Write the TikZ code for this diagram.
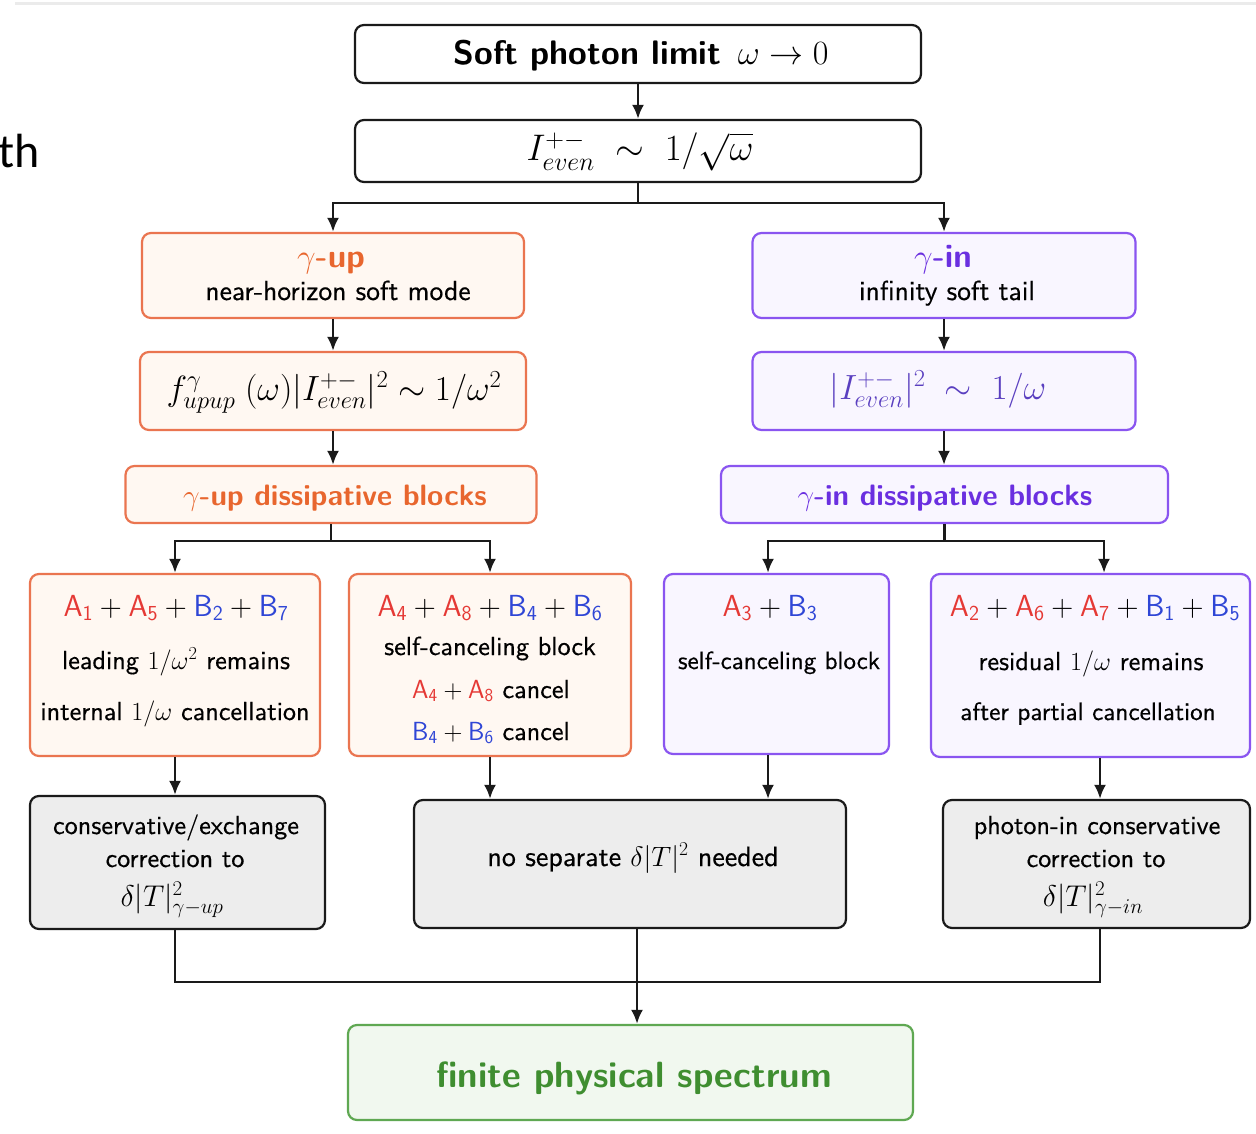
\RequirePackage{fix-cm}
\documentclass[tikz,border=0pt]{standalone}
\usepackage{fontspec}
\newfontfamily\carlito{Carlito}
\newfontfamily\medsf{lmsans10-regular.otf}[FakeBold=0.4]
\usetikzlibrary{arrows.meta}
\definecolor{obord}{HTML}{EA7550}
\definecolor{otext}{HTML}{E8662E}
\definecolor{ofill}{HTML}{FFF8F2}
\definecolor{pbord}{HTML}{8A55F0}
\definecolor{ptext}{HTML}{6A2FE0}
\definecolor{pmath}{HTML}{5A3FC0}
\definecolor{pfill}{HTML}{F9F6FF}
\definecolor{gbord}{HTML}{5FA852}
\definecolor{gtext}{HTML}{3F8E30}
\definecolor{gfill}{HTML}{F1F8EF}
\definecolor{grayfill}{HTML}{EDEDED}
\definecolor{lineblk}{HTML}{1A1A1A}
\definecolor{cred}{HTML}{E53935}
\definecolor{cblue}{HTML}{2F46D6}
\newcommand\mA[1]{\textcolor{cred}{\mathsf{A}_{\mathsf{#1}}}}
\newcommand\mB[1]{\textcolor{cblue}{\mathsf{B}_{\mathsf{#1}}}}
\newcommand\fsN{\fontsize{26.2}{31}\selectfont}
\newcommand\fsS{\fontsize{27.6}{32}\selectfont}
\newcommand\fsA{\fontsize{30.5}{35}\selectfont}
\newcommand\fsM{\fontsize{35}{40}\selectfont}
\newcommand\fsD{\fontsize{30}{34}\selectfont}
\tikzset{
  x=1pt, y=-1pt,
  basebox/.style={rounded corners=9pt, line width=2.2pt, inner sep=0pt},
  kbox/.style={basebox, draw=lineblk, fill=white},
  obox/.style={basebox, draw=obord, fill=ofill},
  pbox/.style={basebox, draw=pbord, fill=pfill},
  gybox/.style={basebox, draw=lineblk, fill=grayfill},
  gnbox/.style={basebox, draw=gbord, fill=gfill},
  lbl/.style={anchor=base, inner sep=0pt, font=\medsf\fsN, text=black},
  alb/.style={lbl, font=\medsf\fsA},
  mlb/.style={lbl, font=\medsf\fsM},
  slb/.style={lbl, font=\medsf\fsS},
  dlb/.style={lbl, font=\medsf\fsD},
  hlb/.style={lbl, font=\sffamily\bfseries\fontsize{33}{36}\selectfont},
  arr/.style={draw=lineblk, line width=2.6pt, -{Latex[length=14pt,width=12pt]}},
  ln/.style={draw=lineblk, line width=2.6pt},
}
\begin{document}
\begin{tikzpicture}
\useasboundingbox (0,0) rectangle (1256,1134);
\fill[white] (0,0) rectangle (1256,1134);
\draw[black!8, line width=3pt] (15,4) -- (1256,4);
\node[anchor=base west, inner sep=0pt, font=\carlito\fontsize{48}{52}\selectfont] (th) at (-2,168) {th};

% boxes
\node[kbox, minimum width=566pt, minimum height=58pt] (b1) at (638,54) {};
\node[kbox, minimum width=566pt, minimum height=62pt] (b2) at (638,151) {};
\node[obox, minimum width=382pt, minimum height=85pt] (b3) at (333,275.5) {};
\node[pbox, minimum width=383pt, minimum height=85pt] (b4) at (944,275.5) {};
\node[obox, minimum width=386pt, minimum height=78pt] (b5) at (333,391) {};
\node[pbox, minimum width=383pt, minimum height=78pt] (b6) at (944,391) {};
\node[obox, minimum width=411pt, minimum height=57pt] (b7) at (331,494.5) {};
\node[pbox, minimum width=447pt, minimum height=57pt] (b8) at (944.5,494.5) {};
\node[obox, minimum width=290pt, minimum height=182pt] (b9) at (175,665) {};
\node[obox, minimum width=282pt, minimum height=182pt] (b10) at (490,665) {};
\node[pbox, minimum width=225pt, minimum height=180pt] (b11) at (776.5,664) {};
\node[pbox, minimum width=319pt, minimum height=183pt] (b12) at (1090.5,665.5) {};
\node[gybox, minimum width=295pt, minimum height=133pt] (b13) at (177.5,862.5) {};
\node[gybox, minimum width=432pt, minimum height=128pt] (b14) at (630,864) {};
\node[gybox, minimum width=307pt, minimum height=128pt] (b15) at (1096.5,864) {};
\node[gnbox, minimum width=565pt, minimum height=95pt] (b16) at (630.5,1072.5) {};

% labels
\node[lbl, font=\sffamily\fontsize{34}{38}\selectfont] (t1) at (641,65) {\textbf{Soft photon limit}\enspace$\omega\to 0$};
\node[lbl, font=\sffamily\fontsize{37}{40}\selectfont] (t2) at (640,161) {$I^{+-}_{even}\;\sim\;1/\sqrt{\omega}$};
\node[hlb, text=otext] (t3a) at (331,268) {$\gamma$-up};
\node[slb] (t3b) at (338,300) {near-horizon soft mode};
\node[hlb, text=ptext] (t4a) at (943,268) {$\gamma$-in};
\node[slb] (t4b) at (947,300) {infinity soft tail};
\node[mlb] (t5) at (334,400) {$f^{\gamma}_{upup}\;(\omega)|I^{+-}_{even}|^2\sim 1/\omega^2$};
\node[mlb, text=pmath] (t6) at (938,399) {$|I^{+-}_{even}|^2\;\sim\;1/\omega$};
\node[lbl, font=\sffamily\bfseries\fontsize{29.5}{34}\selectfont, text=otext] (t7) at (335,505) {$\gamma$-up dissipative blocks};
\node[lbl, font=\sffamily\bfseries\fontsize{29.5}{34}\selectfont, text=ptext] (t8) at (945,505) {$\gamma$-in dissipative blocks};

\node[alb] (t9a) at (176,616) {$\mA{1}+\mA{5}+\mB{2}+\mB{7}$};
\node[lbl] (t9b) at (176,669) {leading $1/\omega^2$ remains};
\node[lbl] (t9c) at (175,720) {internal $1/\omega$ cancellation};

\node[alb] (t10a) at (490,616) {$\mA{4}+\mA{8}+\mB{4}+\mB{6}$};
\node[lbl] (t10b) at (490,655) {self-canceling block};
\node[lbl] (t10c) at (491,698) {$\mA{4}+\mA{8}$ cancel};
\node[lbl] (t10d) at (491,740) {$\mB{4}+\mB{6}$ cancel};

\node[alb] (t11a) at (770,616) {$\mA{3}+\mB{3}$};
\node[lbl, font=\medsf\fontsize{25}{30}\selectfont] (t11b) at (779,669) {self-canceling block};

\node[alb] (t12a) at (1095,616) {$\mA{2}+\mA{6}+\mA{7}+\mB{1}+\mB{5}$};
\node[lbl] (t12b) at (1091,670) {residual $1/\omega$ remains};
\node[lbl, font=\medsf\fontsize{25.2}{30}\selectfont] (t12c) at (1088,720) {after partial cancellation};

\node[lbl] (t13a) at (176,834) {conservative/exchange};
\node[lbl] (t13b) at (175,867) {correction to};
\node[dlb] (t13c) at (172,906) {$\delta|T|^2_{\gamma-up}$};

\node[lbl, font=\medsf\fontsize{28}{32}\selectfont] (t14) at (633,866) {no separate $\delta|T|^2$ needed};

\node[lbl] (t15a) at (1097,834) {photon-in conservative};
\node[lbl] (t15b) at (1096,867) {correction to};
\node[dlb] (t15c) at (1093,906) {$\delta|T|^2_{\gamma-in}$};

\node[lbl, font=\sffamily\bfseries\fontsize{36.5}{40}\selectfont, text=gtext] (t16) at (634,1087) {finite physical spectrum};

% connectors
\coordinate (j1) at (638,203);
\coordinate (j2) at (331,541);
\coordinate (j3) at (944.5,541);
\coordinate (j4) at (175,982);
\coordinate (j5) at (1100,982);
\coordinate (j6) at (637,982);
\draw[arr] (b1) -- (b2);
\draw[ln] (b2.south) -- (j1);
\draw[arr] (j1) -| (b3.north);
\draw[arr] (j1) -| (b4.north);
\draw[arr] (b3) -- (b5);
\draw[arr] (b5.south) -- (b5.south |- b7.north);
\draw[arr] (b4) -- (b6);
\draw[arr] (b6) -- (b6.south |- b8.north);
\draw[ln] (b7.south) -- (j2);
\draw[arr] (j2) -| (b9.north);
\draw[arr] (j2) -| (b10.north);
\draw[ln] (b8.south) -- (j3);
\draw[arr] (j3) -| ([xshift=-8.5pt]b11.north);
\draw[arr] (j3) -| ([xshift=13.5pt]b12.north);
\draw[arr] (b9.south) -- (b9.south |- b13.north);
\draw[arr] (b10.south) -- (b10.south |- b14.north);
\draw[arr] ([xshift=-8.5pt]b11.south) -- ([xshift=-8.5pt]b11.south |- b14.north);
\draw[arr] ([xshift=9.5pt]b12.south) -- ([xshift=9.5pt]b12.south |- b15.north);
\draw[ln] (b13.south -| j4) -- (j4) -- (j5) -- (j5 |- b15.south);
\draw[arr] (b14.south -| j6) -- (j6 |- b16.north);
\end{tikzpicture}
\end{document}
